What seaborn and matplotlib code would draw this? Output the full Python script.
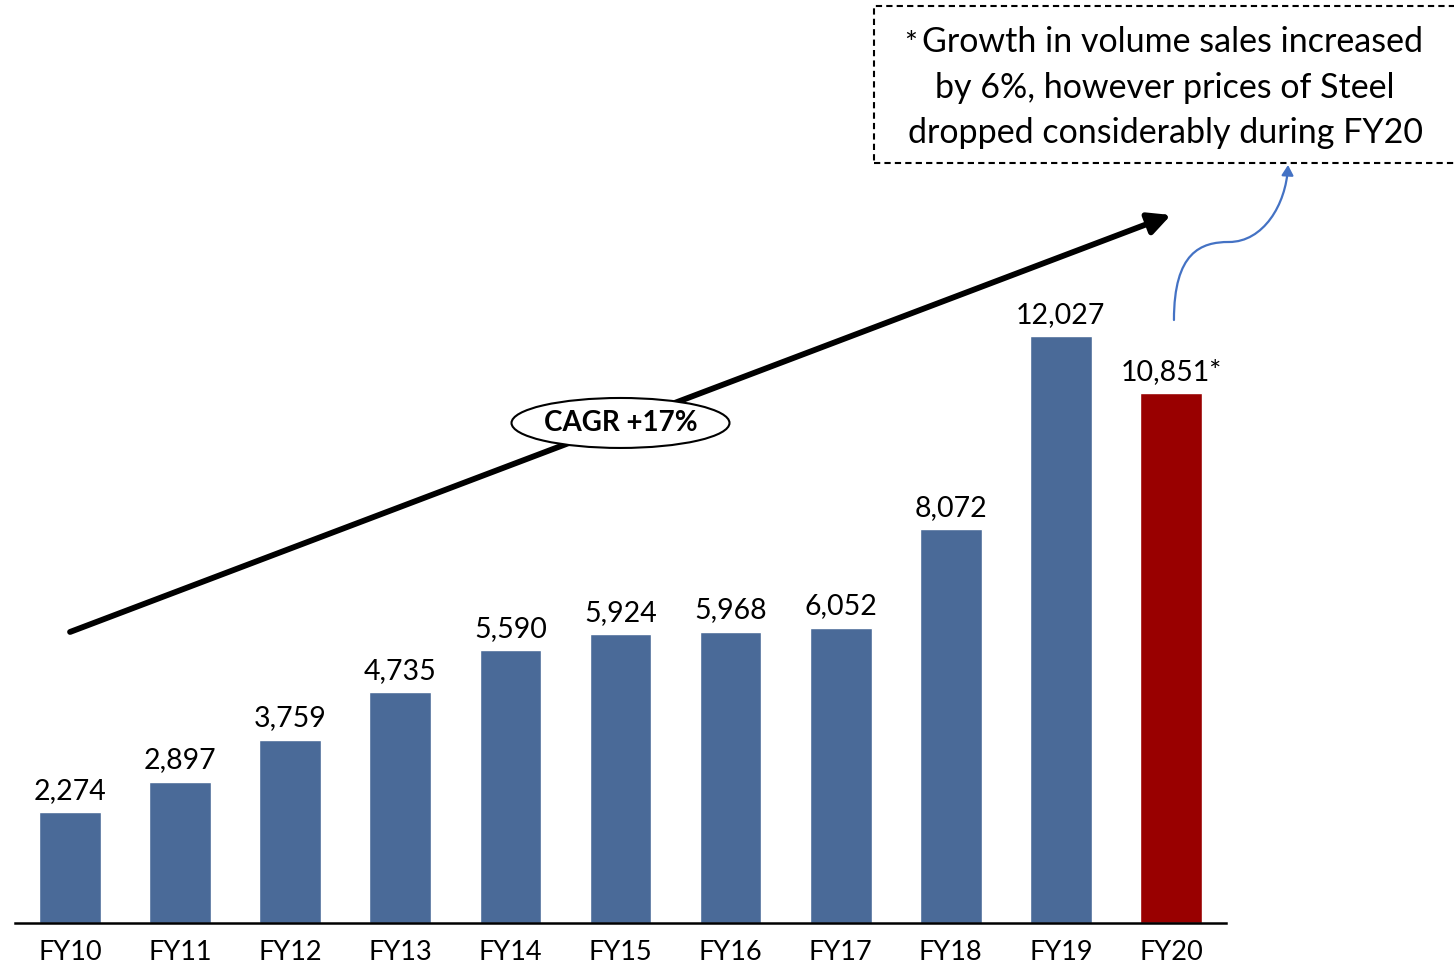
import matplotlib
matplotlib.use("Agg")
import matplotlib.pyplot as plt
from matplotlib.patches import Ellipse, Rectangle, FancyArrowPatch
from matplotlib.path import Path
import seaborn as sns
import pandas as pd

# Revenue by fiscal year
years = ["FY10", "FY11", "FY12", "FY13", "FY14", "FY15", "FY16", "FY17", "FY18", "FY19", "FY20"]
revenue = [2274, 2897, 3759, 4735, 5590, 5924, 5968, 6052, 8072, 12027, 10851]
value_labels = ["2,274", "2,897", "3,759", "4,735", "5,590", "5,924", "5,968", "6,052",
                "8,072", "12,027", "10,851*"]
cagr_text = "CAGR +17%"
note_lines = ["Growth in volume sales increased",
              "by 6%, however prices of Steel",
              "dropped considerably during FY20"]

BLUE = "#4A6A98"
RED = "#990000"
FONT = "Lato"

sns.set_theme(style="white")
plt.rcParams["font.family"] = [FONT, "DejaVu Sans"]

df = pd.DataFrame({"year": years, "revenue": revenue})
palette = [BLUE] * (len(years) - 1) + [RED]

fig = plt.figure(figsize=(14.54, 9.66), dpi=100)
ax = fig.add_axes([15 / 1454, 43 / 966, 1211 / 1454, 923 / 966])

sns.barplot(data=df, x="year", y="revenue", hue="year", palette=palette,
            width=0.56, legend=False, ax=ax, saturation=1)

ax.set_xlim(-0.5, 10.5)
ax.set_ylim(0, 18911)
ax.set_xlabel("")
ax.set_ylabel("")
ax.set_yticks([])
for s in ["top", "right", "left"]:
    ax.spines[s].set_visible(False)
ax.spines["bottom"].set_color("black")
ax.spines["bottom"].set_linewidth(1.8)
ax.tick_params(axis="x", length=0, pad=12, labelsize=19.5)
for t in ax.get_xticklabels():
    t.set_color("black")

# Value labels above bars
for i, (v, lab) in enumerate(zip(revenue, value_labels)):
    ax.text(i, v + 170, lab, ha="center", va="bottom", fontsize=20.5, color="black")

# CAGR trend arrow
ax.annotate("", xy=(10.0, 14506), xytext=(0.0, 5963),
            arrowprops=dict(arrowstyle="-|>,head_length=1.1,head_width=0.55",
                            color="black", lw=4.2, shrinkA=0, shrinkB=0),
            annotation_clip=False, zorder=4)
ell = Ellipse((5.0, 10245), width=1.98, height=1024, facecolor="white",
              edgecolor="black", lw=1.5, zorder=5)
ax.add_patch(ell)
ax.text(5.0, 10245, cagr_text, ha="center", va="center", fontsize=20,
        fontweight="bold", color="black", zorder=6)

# Curved pointer from FY20 bar to the note
to_x = lambda px: (px - 70) / 110
to_y = lambda py: (923 - py) / 0.048807
verts = [(to_x(1173), to_y(320)), (to_x(1173), to_y(252)), (to_x(1200), to_y(242)),
         (to_x(1228), to_y(242)), (to_x(1262), to_y(242)), (to_x(1285), to_y(205)),
         (to_x(1287), to_y(165))]
codes = [Path.MOVETO, Path.CURVE4, Path.CURVE4, Path.CURVE4,
         Path.CURVE4, Path.CURVE4, Path.CURVE4]
curve = FancyArrowPatch(path=Path(verts, codes),
                        arrowstyle="-|>,head_length=6,head_width=3.5",
                        color="#4472C4", lw=1.6, clip_on=False, zorder=4)
ax.add_patch(curve)

# Dashed note box
box = Rectangle((874 / 1454, (966 - 163) / 966), 0.5, 157 / 966,
                transform=fig.transFigure, fill=False, edgecolor="black",
                lw=1.5, linestyle=(0, (3, 2)))
fig.patches.append(box)
for k, line in enumerate(note_lines):
    cx = 1172 if k == 0 else 1165
    fig.text(cx / 1454, (966 - 42 - 45.5 * k) / 966, line, ha="center", va="center",
             fontsize=24.5, color="black")
fig.text(917 / 1454, (966 - 44) / 966, "*", ha="right", va="center",
         fontsize=22, color="black")

fig.savefig("out.png", dpi=100)
